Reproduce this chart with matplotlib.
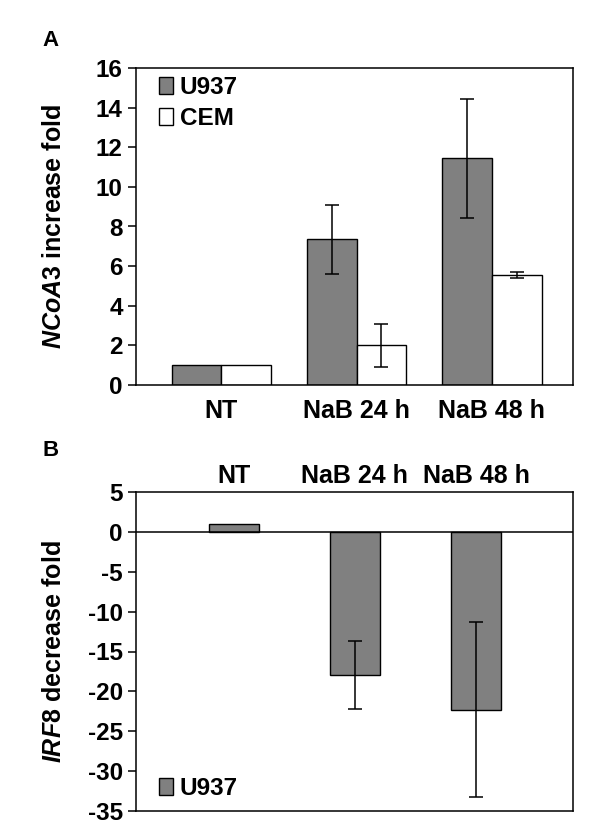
import matplotlib
matplotlib.use('Agg')
import matplotlib.pyplot as plt
import numpy as np

plt.rcParams['font.family'] = ['Liberation Sans', 'DejaVu Sans']
plt.rcParams['font.weight'] = 'bold'
plt.rcParams['axes.unicode_minus'] = False
plt.rcParams['mathtext.fontset'] = 'custom'
plt.rcParams['mathtext.it'] = 'Liberation Sans:italic:bold'
plt.rcParams['mathtext.rm'] = 'Liberation Sans:bold'

# data
categories = ['NT', 'NaB 24 h', 'NaB 48 h']
ncoa3_u937 = [1.0, 7.35, 11.45]
ncoa3_u937_err = [0.0, 1.75, 3.0]
ncoa3_cem = [1.0, 2.0, 5.55]
ncoa3_cem_err = [0.0, 1.07, 0.13]
irf8_u937 = [1.0, -17.9, -22.3]
irf8_u937_err = [0.0, 4.25, 10.95]

gray = '#808080'

fig = plt.figure(figsize=(6, 8.4), dpi=100)

# ---- panel A
axA = fig.add_axes([136/600, 1-385/840, 437/600, 317/840])
x = np.arange(len(categories))
w = 0.368
axA.bar(x - w/2, ncoa3_u937, w, color=gray, edgecolor='black', lw=1.0, label='U937')
axA.bar(x + w/2, ncoa3_cem, w, color='white', edgecolor='black', lw=1.0, label='CEM')
for xi, v, e in zip(x - w/2, ncoa3_u937, ncoa3_u937_err):
    if e > 0:
        axA.errorbar(xi, v, yerr=e, color='black', lw=1.1, capsize=5, capthick=1.1)
for xi, v, e in zip(x + w/2, ncoa3_cem, ncoa3_cem_err):
    if e > 0:
        axA.errorbar(xi, v, yerr=e, color='black', lw=1.1, capsize=5, capthick=1.1)
axA.set_xlim(-0.631, 2.6)
axA.set_ylim(0, 16)
axA.set_yticks(np.arange(0, 17, 2))
axA.set_xticks(x)
axA.set_xticklabels(categories, fontsize=18, fontweight='bold')
axA.tick_params(axis='x', length=0, pad=10)
axA.tick_params(axis='y', direction='out', length=5.5, width=1.1, pad=4, labelsize=17.5)
for s in axA.spines.values():
    s.set_linewidth(1.1)
axA.set_ylabel(r'$\mathit{NCoA3}$ increase fold', fontsize=18, fontweight='bold')
axA.yaxis.set_label_coords(-0.16, 0.5)
axA.legend(loc='upper left', bbox_to_anchor=(0.02, 1.02), frameon=False, fontsize=17.5,
           handlelength=0.55, handleheight=0.7, handletextpad=0.3, labelspacing=0.3,
           borderaxespad=0.2)
fig.text(42/600, 1-41/840, 'A', fontsize=16, fontweight='bold', va='center')

# ---- panel B
axB = fig.add_axes([136/600, 1-811/840, 437/600, 319/840])
wb = 0.41
axB.bar(x, irf8_u937, wb, color=gray, edgecolor='black', lw=1.0, label='U937')
for xi, v, e in zip(x, irf8_u937, irf8_u937_err):
    if e > 0:
        axB.errorbar(xi, v, yerr=e, color='black', lw=1.1, capsize=5, capthick=1.1)
axB.axhline(0, color='black', lw=1.1)
axB.set_xlim(-0.806, 2.8)
axB.set_ylim(-35, 5)
axB.set_yticks(np.arange(-35, 6, 5))
axB.xaxis.tick_top()
axB.set_xticks(x)
axB.set_xticklabels(categories, fontsize=18, fontweight='bold')
axB.tick_params(axis='x', length=0, pad=3)
axB.tick_params(axis='y', direction='out', length=5.5, width=1.1, pad=4, labelsize=17.5)
for s in axB.spines.values():
    s.set_linewidth(1.1)
axB.set_ylabel(r'$\mathit{IRF8}$ decrease fold', fontsize=18, fontweight='bold')
axB.yaxis.set_label_coords(-0.16, 0.5)
axB.legend(loc='lower left', bbox_to_anchor=(0.02, -0.01), frameon=False, fontsize=17.5,
           handlelength=0.55, handleheight=0.7, handletextpad=0.3, borderaxespad=0.2)
fig.text(42/600, 1-450/840, 'B', fontsize=16, fontweight='bold', va='center')

fig.savefig('out.png', dpi=100)
